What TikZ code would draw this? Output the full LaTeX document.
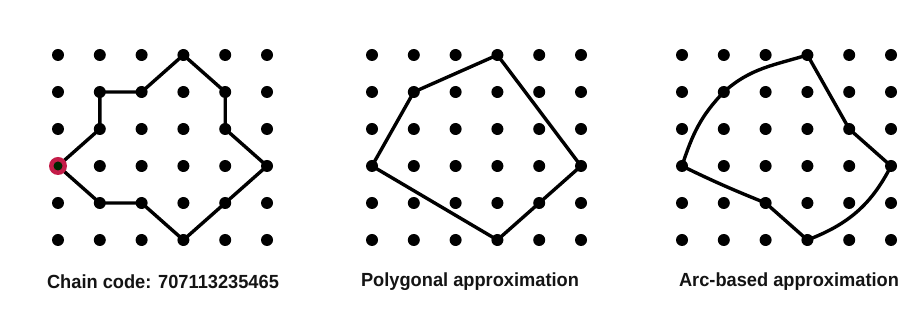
\documentclass[tikz,border=0pt]{standalone}
\usepackage{fontspec}
\setmainfont{Liberation Sans}
\definecolor{markred}{RGB}{196,28,72}
\definecolor{txt}{RGB}{20,20,20}
\begin{document}
\begin{tikzpicture}[x=1pt,y=1pt,
  dot/.style={circle,fill=black,inner sep=0pt,minimum size=12pt},
  edge/.style={line width=3.4pt,line join=round,line cap=round},
  lbl/.style={inner sep=0pt,text=txt,font=\fontsize{19}{21}\selectfont\bfseries}]
\fill[white] (0,0) rectangle (920,320);
\useasboundingbox (0,0) rectangle (920,320);
\foreach \p/\bx in {1/58,2/372,3/682}{
  \foreach \c in {0,...,5}{
    \foreach \r in {0,...,5}{
      \node[dot] (p\p-\c-\r) at ({\bx+41.8*\c},{265-37*\r}) {};
    }
  }
}
% Panel 1: chain code
\draw[edge] (p1-0-3.center) -- (p1-1-4.center) -- (p1-2-4.center) -- (p1-3-5.center)
  -- (p1-4-4.center) -- (p1-5-3.center) -- (p1-4-2.center) -- (p1-4-1.center)
  -- (p1-3-0.center) -- (p1-2-1.center) -- (p1-1-1.center) -- (p1-1-2.center)
  -- (p1-0-3.center);
\node[circle,fill=markred,inner sep=0pt,minimum size=18pt] (start) at (p1-0-3) {};
\node[circle,fill=black!85!green,inner sep=0pt,minimum size=9pt] (startc) at (start) {};
% Panel 2: polygonal approximation
\draw[edge] (p2-0-3.center) -- (p2-1-1.center) -- (p2-3-0.center) -- (p2-5-3.center)
  -- (p2-4-4.center) -- (p2-3-5.center) -- cycle;
% Panel 3: arc-based approximation
\draw[edge] (p3-0-3.center) to[out=72,in=226] (p3-1-1.center)
  to[out=42,in=197] (p3-3-0.center) -- (p3-4-2.center) -- (p3-5-3.center)
  to[out=243,in=21] (p3-3-5.center) -- (p3-2-4.center)
  to[out=158,in=-26] (p3-0-3.center);
% Labels
\node[lbl] (l1) at (163,38) {\scalebox{0.96}[1]{Chain code: 707113235465}};
\node[lbl] (l2) at (470,38) {\scalebox{0.96}[1]{Polygonal approximation}};
\node[lbl] (l3) at (789,38) {\scalebox{0.96}[1]{Arc-based approximation}};
\end{tikzpicture}
\end{document}
